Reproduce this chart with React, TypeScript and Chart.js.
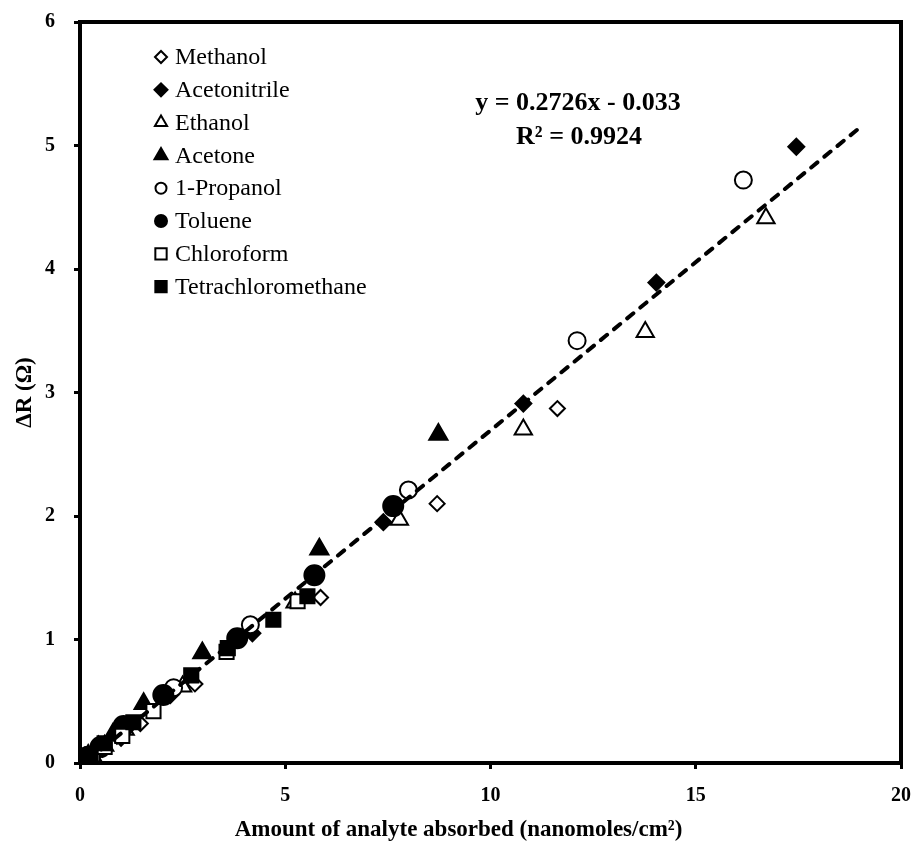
import React, { useEffect, useRef } from 'react';
import { Chart, registerables } from 'chart.js';
import { drawPoint } from 'chart.js/helpers';

Chart.register(...registerables);

// ---------- data ----------
const seriesNames = ['Methanol', 'Acetonitrile', 'Ethanol', 'Acetone', '1-Propanol', 'Toluene', 'Chloroform', 'Tetrachloromethane'];

const methanolX = [0.3, 0.55, 1.0, 1.47, 2.8, 5.86, 8.7, 11.63];
const methanolY = [0.06, 0.11, 0.2, 0.32, 0.64, 1.34, 2.1, 2.87];

const acetonitrileX = [0.25, 0.5, 0.9, 2.2, 4.2, 7.39, 10.8, 14.04, 17.45];
const acetonitrileY = [0.05, 0.12, 0.22, 0.55, 1.05, 1.95, 2.91, 3.89, 4.99];

const ethanolX = [0.3, 0.6, 1.1, 2.5, 5.24, 7.78, 10.8, 13.77, 16.71];
const ethanolY = [0.06, 0.14, 0.27, 0.62, 1.3, 1.97, 2.7, 3.49, 4.41];

const acetoneX = [0.2, 0.45, 0.8, 1.55, 2.98, 5.83, 8.73];
const acetoneY = [0.06, 0.13, 0.23, 0.48, 0.89, 1.73, 2.66];

const propanolX = [0.25, 0.55, 1.1, 2.28, 4.15, 8.0, 12.11, 16.16];
const propanolY = [0.06, 0.14, 0.3, 0.61, 1.12, 2.21, 3.42, 4.72];

const tolueneX = [0.2, 0.5, 1.06, 2.03, 3.83, 5.71, 7.63];
const tolueneY = [0.05, 0.13, 0.3, 0.55, 1.01, 1.52, 2.08];

const chloroformX = [0.3, 0.6, 1.03, 1.79, 3.57, 5.3];
const chloroformY = [0.07, 0.13, 0.22, 0.42, 0.9, 1.31];

const tetraX = [0.25, 0.6, 1.3, 2.71, 3.6, 4.71, 5.54];
const tetraY = [0.06, 0.16, 0.33, 0.71, 0.93, 1.16, 1.35];

const trendX = [0.2, 19.0];
const trendY = [0.022, 5.146];

const xTicks = [0, 5, 10, 15, 20];
const yTicks = [0, 1, 2, 3, 4, 5, 6];

const equationLines = ['y = 0.2726x - 0.033', 'R² = 0.9924'];
const xTitle = 'Amount of analyte absorbed (nanomoles/cm²)';
const yTitle = 'ΔR (Ω)';

// ---------- styles ----------
const seriesX = [methanolX, acetonitrileX, ethanolX, acetoneX, propanolX, tolueneX, chloroformX, tetraX];
const seriesY = [methanolY, acetonitrileY, ethanolY, acetoneY, propanolY, tolueneY, chloroformY, tetraY];
const styles = [
  { pointStyle: 'rectRot', filled: false, radius: 7.5, legendRadius: 6 },
  { pointStyle: 'rectRot', filled: true, radius: 8, legendRadius: 6.5 },
  { pointStyle: 'triangle', filled: false, radius: 10, legendRadius: 7 },
  { pointStyle: 'triangle', filled: true, radius: 10.5, legendRadius: 7.5 },
  { pointStyle: 'circle', filled: false, radius: 8.5, legendRadius: 5.5 },
  { pointStyle: 'circle', filled: true, radius: 10, legendRadius: 6 },
  { pointStyle: 'rect', filled: false, radius: 10, legendRadius: 8 },
  { pointStyle: 'rect', filled: true, radius: 10, legendRadius: 8 },
];

const SERIF = '"Liberation Serif", "Times New Roman", serif';

const overlayPlugin = {
  id: 'overlay',
  afterDraw(chart: any) {
    const { ctx, chartArea } = chart;
    ctx.save();
    // frame
    ctx.strokeStyle = '#000';
    ctx.lineWidth = 4;
    ctx.strokeRect(chartArea.left, chartArea.top, chartArea.right - chartArea.left, chartArea.bottom - chartArea.top);

    // legend
    ctx.font = `24px ${SERIF}`;
    ctx.textBaseline = 'middle';
    ctx.textAlign = 'left';
    seriesNames.forEach((name, i) => {
      const st = styles[i];
      const y = 57 + i * 32.8;
      ctx.fillStyle = st.filled ? '#000' : '#fff';
      ctx.strokeStyle = '#000';
      ctx.lineWidth = 2;
      drawPoint(ctx, { pointStyle: st.pointStyle, rotation: 0, radius: st.legendRadius, borderWidth: 2 }, 161, y);
      ctx.fillStyle = '#000';
      ctx.fillText(name, 175, y + 1);
    });

    // equation
    ctx.font = `bold 26px ${SERIF}`;
    ctx.textAlign = 'center';
    ctx.fillStyle = '#000';
    ctx.fillText(equationLines[0], 578, 103);
    ctx.fillText(equationLines[1], 579, 137);

    // x title (centered on canvas)
    ctx.font = `bold 23px ${SERIF}`;
    ctx.fillText(xTitle, chart.width / 2, 830);
    ctx.restore();
  },
};

const zeroPad = (s: any) => {
  s.paddingLeft = 0;
  s.paddingRight = 0;
  s.paddingTop = 0;
  s.paddingBottom = 0;
};

export default function App() {
  const ref = useRef<HTMLCanvasElement | null>(null);

  useEffect(() => {
    if (!ref.current) return;
    const datasets: any[] = seriesNames.map((name, i) => {
      const st = styles[i];
      return {
        type: 'scatter',
        label: name,
        data: seriesX[i].map((x, j) => ({ x, y: seriesY[i][j] })),
        pointStyle: st.pointStyle,
        pointRadius: st.radius,
        pointHoverRadius: st.radius,
        pointBackgroundColor: st.filled ? '#000' : '#fff',
        pointBorderColor: '#000',
        pointBorderWidth: 2,
        showLine: false,
        order: 20 - i,
      };
    });
    datasets.push({
      type: 'line',
      label: 'trend',
      data: trendX.map((x, j) => ({ x, y: trendY[j] })),
      borderColor: '#000',
      borderWidth: 4,
      borderDash: [8, 9],
      borderCapStyle: 'round',
      pointRadius: 0,
      fill: false,
      order: 0,
    });

    const chart = new Chart(ref.current, {
      type: 'scatter',
      data: { datasets },
      options: {
        animation: false,
        responsive: true,
        maintainAspectRatio: false,
        layout: { padding: { left: 0, right: 16, top: 22, bottom: 0 } },
        plugins: { legend: { display: false }, tooltip: { enabled: false } },
        scales: {
          x: {
            type: 'linear',
            min: 0,
            max: 20,
            afterFit: (s: any) => { s.height = 83; zeroPad(s); },
            afterBuildTicks: (s: any) => { s.ticks = xTicks.map((v) => ({ value: v })); },
            ticks: { color: '#000', padding: 15, font: { family: SERIF, size: 20, weight: 'bold' } },
            grid: { drawOnChartArea: false, drawTicks: true, tickLength: 6, tickWidth: 3, tickColor: '#000' },
            border: { display: false },
          },
          y: {
            type: 'linear',
            min: 0,
            max: 6,
            afterFit: (s: any) => { s.width = 80; zeroPad(s); },
            afterBuildTicks: (s: any) => { s.ticks = yTicks.map((v) => ({ value: v })); },
            ticks: { color: '#000', padding: 19, font: { family: SERIF, size: 20, weight: 'bold' } },
            grid: { drawOnChartArea: false, drawTicks: true, tickLength: 6, tickWidth: 3, tickColor: '#000' },
            border: { display: false },
            title: { display: true, text: yTitle, color: '#000', padding: { top: 11, bottom: 0 }, font: { family: SERIF, size: 23, weight: 'bold' } },
          },
        },
      },
      plugins: [overlayPlugin],
    } as any);
    return () => chart.destroy();
  }, []);

  return (
    <div style={{ position: 'fixed', left: 0, top: 0, width: 917, height: 846, background: '#fff' }}>
      <canvas ref={ref} />
    </div>
  );
}
